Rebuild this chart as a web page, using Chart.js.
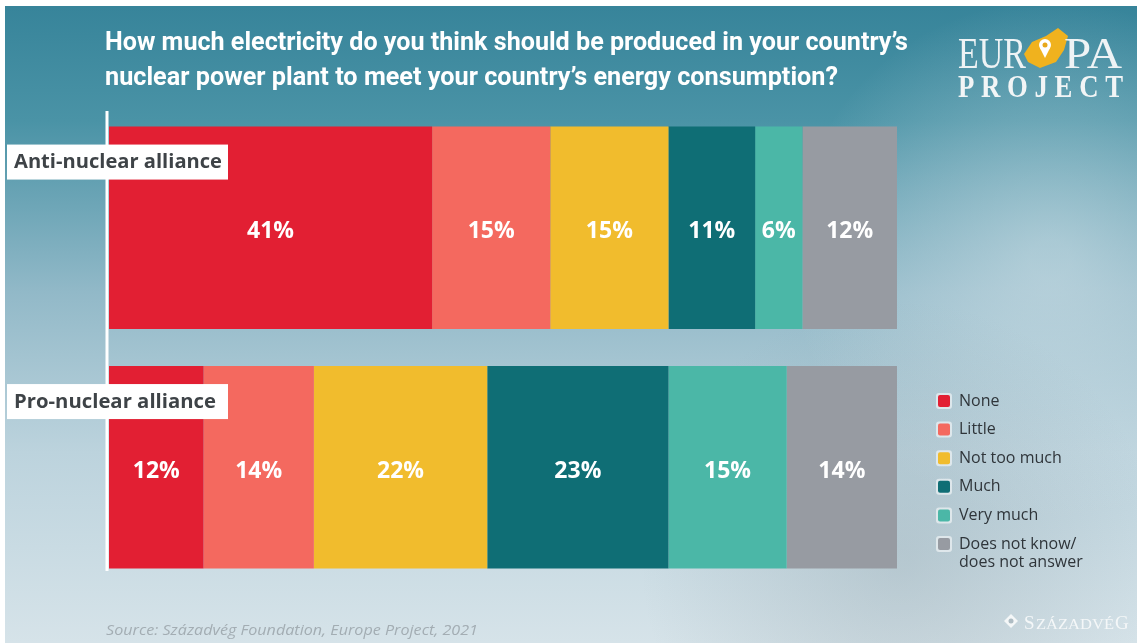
<!DOCTYPE html>
<html>
<head>
<meta charset="utf-8">
<script src="https://cdn.jsdelivr.net/npm/chart.js@4.4.1/dist/chart.umd.min.js"></script>
<style>
    html, body { margin: 0; padding: 0; background: #ffffff; }
    #wrap { position: relative; width: 1137px; height: 643px; }
</style>
</head>
<body>
<div id="wrap"><canvas id="nuclear_chart"></canvas></div>
<script>

const categories = ["Anti-nuclear alliance", "Pro-nuclear alliance"];

const responses = [
    "None",
    "Little",
    "Not too much",
    "Much",
    "Very much",
    "Does not know/\ndoes not answer",
];

const noneValues = [41, 12];
const littleValues = [15, 14];
const notTooMuchValues = [15, 22];
const muchValues = [11, 23];
const veryMuchValues = [6, 15];
const dontKnowValues = [12, 14];

const seriesValues = [
    noneValues,
    littleValues,
    notTooMuchValues,
    muchValues,
    veryMuchValues,
    dontKnowValues,
];

const seriesColors = [
    "#e21f33",
    "#f4695f",
    "#f1bc2d",
    "#0f6e75",
    "#4bb7a7",
    "#979ba2",
];

const titleLines = [
    "How much electricity do you think should be produced in your country’s",
    "nuclear power plant to meet your country’s energy consumption?",
];

const sourceText = "Source: Századvég Foundation, Europe Project, 2021";

// draws text stretched or squeezed to a given width (the original uses a condensed face)
function fitText(ctx, text, x, y, width) {
    const w = ctx.measureText(text).width;
    ctx.save();
    ctx.translate(x, y);
    ctx.scale(width / w, 1);
    ctx.fillText(text, 0, 0);
    ctx.restore();
}

const backgroundPlugin = {
    id: "background",
    beforeDraw(chart) {
        const ctx = chart.ctx;
        const w = chart.width;
        const h = chart.height;
        ctx.save();
        ctx.fillStyle = "#ffffff";
        ctx.fillRect(0, 0, w, h);

        const grad = ctx.createLinearGradient(0, 6, 0, h);
        grad.addColorStop(0, "#37849a");
        grad.addColorStop(0.18, "#4a93a6");
        grad.addColorStop(0.45, "#92b9c8");
        grad.addColorStop(0.7, "#bcd3dd");
        grad.addColorStop(1, "#d6e3e9");
        ctx.fillStyle = grad;
        ctx.fillRect(5, 6, w - 5, h - 6);

        // soft light haze on the right
        const glow = ctx.createRadialGradient(1050, 260, 20, 1050, 260, 260);
        glow.addColorStop(0, "rgba(225,235,240,0.45)");
        glow.addColorStop(1, "rgba(225,235,240,0)");
        ctx.fillStyle = glow;
        ctx.fillRect(5, 6, w - 5, h - 6);

        const dark = ctx.createRadialGradient(900, 560, 10, 900, 560, 260);
        dark.addColorStop(0, "rgba(120,140,150,0.25)");
        dark.addColorStop(1, "rgba(120,140,150,0)");
        ctx.fillStyle = dark;
        ctx.fillRect(5, 6, w - 5, h - 6);
        ctx.restore();
    },
};

const decorPlugin = {
    id: "decor",
    afterDatasetsDraw(chart) {
        const ctx = chart.ctx;
        const xScale = chart.scales.x;
        const area = chart.chartArea;

        ctx.save();

        // white baseline
        const x0 = xScale.getPixelForValue(0) - 2;
        ctx.strokeStyle = "#ffffff";
        ctx.lineWidth = 3;
        ctx.beginPath();
        ctx.moveTo(x0, area.top + 3);
        ctx.lineTo(x0, area.bottom - 16);
        ctx.stroke();

        // value labels
        ctx.fillStyle = "#ffffff";
        ctx.font = "bold 23px 'Open Sans'";
        ctx.textAlign = "center";
        ctx.textBaseline = "middle";
        chart.data.datasets.forEach((ds, di) => {
            const meta = chart.getDatasetMeta(di);
            meta.data.forEach((bar, i) => {
                const cx = (bar.x + bar.base) / 2;
                ctx.fillText(ds.data[i] + "%", cx, bar.y + 4);
            });
        });

        // category boxes
        ctx.font = "bold 20px 'Open Sans'";
        ctx.textAlign = "left";
        categories.forEach((cat, i) => {
            const bar = chart.getDatasetMeta(0).data[i];
            const top = bar.y - bar.height / 2 + 18;
            ctx.fillStyle = "#ffffff";
            ctx.fillRect(7, top, 221, 35);
            ctx.fillStyle = "#3e4347";
            fitText(ctx, cat, 14, top + 18, cat.startsWith("Anti") ? 208 : 202);
        });

        // legend
        const legendTop = 401;
        const rowGap = 28.6;
        ctx.font = "16px 'Open Sans'";
        ctx.textBaseline = "middle";
        responses.forEach((label, i) => {
            const cy = legendTop + i * rowGap;
            ctx.fillStyle = "rgba(255,255,255,0.55)";
            ctx.beginPath();
            ctx.roundRect(936, cy - 8, 16, 16, 3);
            ctx.fill();
            ctx.fillStyle = seriesColors[i];
            ctx.beginPath();
            ctx.roundRect(938, cy - 6, 12, 12, 2);
            ctx.fill();
            ctx.fillStyle = "#2f353a";
            label.split("\n").forEach((line, li) => {
                ctx.fillText(line, 959, cy + li * 18);
            });
        });

        // title
        ctx.fillStyle = "#ffffff";
        ctx.font = "bold 25px Roboto";
        ctx.textBaseline = "alphabetic";
        fitText(ctx, titleLines[0], 105, 50, 803);
        fitText(ctx, titleLines[1], 105, 85, 733);

        // source
        ctx.fillStyle = "#a3adb3";
        ctx.font = "italic 15px 'Open Sans'";
        fitText(ctx, sourceText, 106, 635, 372);

        // EUROPA PROJECT logo
        ctx.fillStyle = "#f0b21e";
        ctx.beginPath();
        ctx.moveTo(1024, 54);
        ctx.lineTo(1032, 42);
        ctx.lineTo(1046, 36);
        ctx.lineTo(1058, 28);
        ctx.lineTo(1068, 36);
        ctx.lineTo(1064, 50);
        ctx.lineTo(1056, 62);
        ctx.lineTo(1040, 68);
        ctx.lineTo(1028, 62);
        ctx.closePath();
        ctx.fill();
        ctx.fillStyle = "#ffffff";
        ctx.beginPath();
        ctx.arc(1045, 45, 6, 0, Math.PI * 2);
        ctx.fill();
        ctx.beginPath();
        ctx.moveTo(1040, 48);
        ctx.lineTo(1045, 58);
        ctx.lineTo(1050, 48);
        ctx.fill();
        ctx.fillStyle = "#e8a81a";
        ctx.beginPath();
        ctx.arc(1045, 45, 2.5, 0, Math.PI * 2);
        ctx.fill();

        ctx.fillStyle = "#eef3f5";
        ctx.font = "44px 'Liberation Serif'";
        fitText(ctx, "EUR", 958, 68, 68);
        fitText(ctx, "PA", 1064, 68, 58);
        ctx.font = "bold 31px 'Liberation Serif'";
        ctx.fillStyle = "#f2f5f6";
        fitText(ctx, "P R O J E C T", 958, 97, 165);

        // Szazadveg mark
        ctx.fillStyle = "#f4f7f8";
        ctx.beginPath();
        ctx.moveTo(1011, 614);
        ctx.lineTo(1018, 621);
        ctx.lineTo(1011, 628);
        ctx.lineTo(1004, 621);
        ctx.closePath();
        ctx.fill();
        ctx.fillStyle = "#aebcc3";
        ctx.beginPath();
        ctx.arc(1011, 621, 2.5, 0, Math.PI * 2);
        ctx.fill();
        ctx.fillStyle = "#f4f7f8";
        ctx.font = "19px 'Liberation Serif'";
        ctx.fillText("S", 1024, 629);
        ctx.font = "14px 'Liberation Serif'";
        fitText(ctx, "ZÁZADVÉ", 1036, 629, 78);
        ctx.font = "19px 'Liberation Serif'";
        ctx.fillText("G", 1115, 629);

        ctx.restore();
    },
};

const datasets = seriesValues.map((values, i) => ({
    label: responses[i],
    data: values,
    backgroundColor: seriesColors[i],
    borderWidth: 0,
    barPercentage: 0.845,
    categoryPercentage: 1,
}));

new Chart(document.getElementById("nuclear_chart"), {
    type: "bar",
    data: {
        labels: categories,
        datasets: datasets,
    },
    options: {
        indexAxis: "y",
        responsive: true,
        maintainAspectRatio: false,
        animation: false,
        layout: {
            padding: { left: 109, right: 240, top: 108, bottom: 56 },
        },
        scales: {
            x: { stacked: true, min: 0, max: 100, display: false },
            y: { stacked: true, display: false },
        },
        plugins: {
            legend: { display: false },
            tooltip: { enabled: false },
        },
    },
    plugins: [backgroundPlugin, decorPlugin],
});
</script>
</body>
</html>
